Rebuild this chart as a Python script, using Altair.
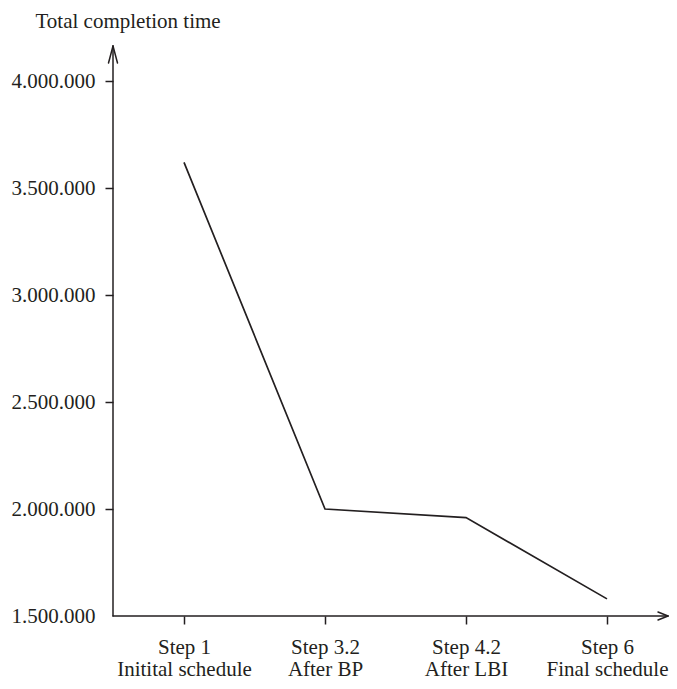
import altair as alt
import pandas as pd

# ---- data ----
steps = ["Step 1|Initital schedule", "Step 3.2|After BP", "Step 4.2|After LBI", "Step 6|Final schedule"]
values = [3620000, 2000000, 1960000, 1580000]
y_ticks = [1500000, 2000000, 2500000, 3000000, 3500000, 4000000]
y_title = "Total completion time"

df = pd.DataFrame({"step": steps, "value": values})
dummy = pd.DataFrame({"k": [0]})

FONT = "Liberation Serif"
INK = "#231f20"
W, H = 556, 535
SW = 1.5

x_enc = alt.X(
    "step:N",
    sort=steps,
    scale=alt.Scale(domain=steps, range=[0.5, 564.5], paddingInner=0, paddingOuter=0),
    axis=alt.Axis(
        title=None, labelAngle=0, labelExpr="split(datum.label, '|')",
        domain=False, grid=False, ticks=True, tickSize=8, tickWidth=SW, tickColor=INK,
        labelPadding=12, labelLineHeight=22, labelFont=FONT, labelFontSize=21,
        labelColor=INK, labelBaseline="top", labelLimit=0,
    ),
)
y_enc = alt.Y(
    "value:Q",
    scale=alt.Scale(domain=[1500000, 4000000], nice=False, zero=False),
    axis=alt.Axis(
        values=y_ticks,
        labelExpr="replace(format(datum.value, ','), regexp(',', 'g'), '.')",
        domain=False, grid=False, tickSize=8, tickWidth=SW, tickColor=INK,
        tickOpacity={"condition": {"test": "datum.value <= 1500000", "value": 0}, "value": 1},
        labelPadding=10, labelFont=FONT, labelFontSize=21, labelColor=INK,
        title=y_title, titleAngle=0, titleAlign="left", titleBaseline="alphabetic",
        titleX=-78, titleY=-54, titleFont=FONT, titleFontSize=21,
        titleFontWeight="normal", titleColor=INK,
    ),
)

line = alt.Chart(df).mark_line(color=INK, strokeWidth=1.7).encode(x=x_enc, y=y_enc)

def seg(x1, y1, x2, y2):
    return alt.Chart(dummy).mark_rule(color=INK, strokeWidth=SW, strokeCap="round").encode(
        x=alt.value(x1), y=alt.value(y1), x2=alt.value(x2), y2=alt.value(y2)
    )

axes = [
    seg(0, -35, 0, H),             # y axis line
    seg(0, H, W - 1, H),           # x axis line
    seg(0, -35, -4.5, -18),        # top arrow arms
    seg(0, -35, 4.5, -18),
    seg(W - 1, H, W - 11, H - 4),  # right arrow arms
    seg(W - 1, H, W - 11, H + 4),
]

chart = alt.layer(line, *axes).properties(
    width=W, height=H,
    background="white",
    autosize=alt.AutoSizeParams(type="none"),
    padding={"left": 105, "top": 73, "right": 0, "bottom": 65},
).configure_view(stroke=None)

chart.save("out.html", embed_options={"renderer": "svg", "actions": False})
